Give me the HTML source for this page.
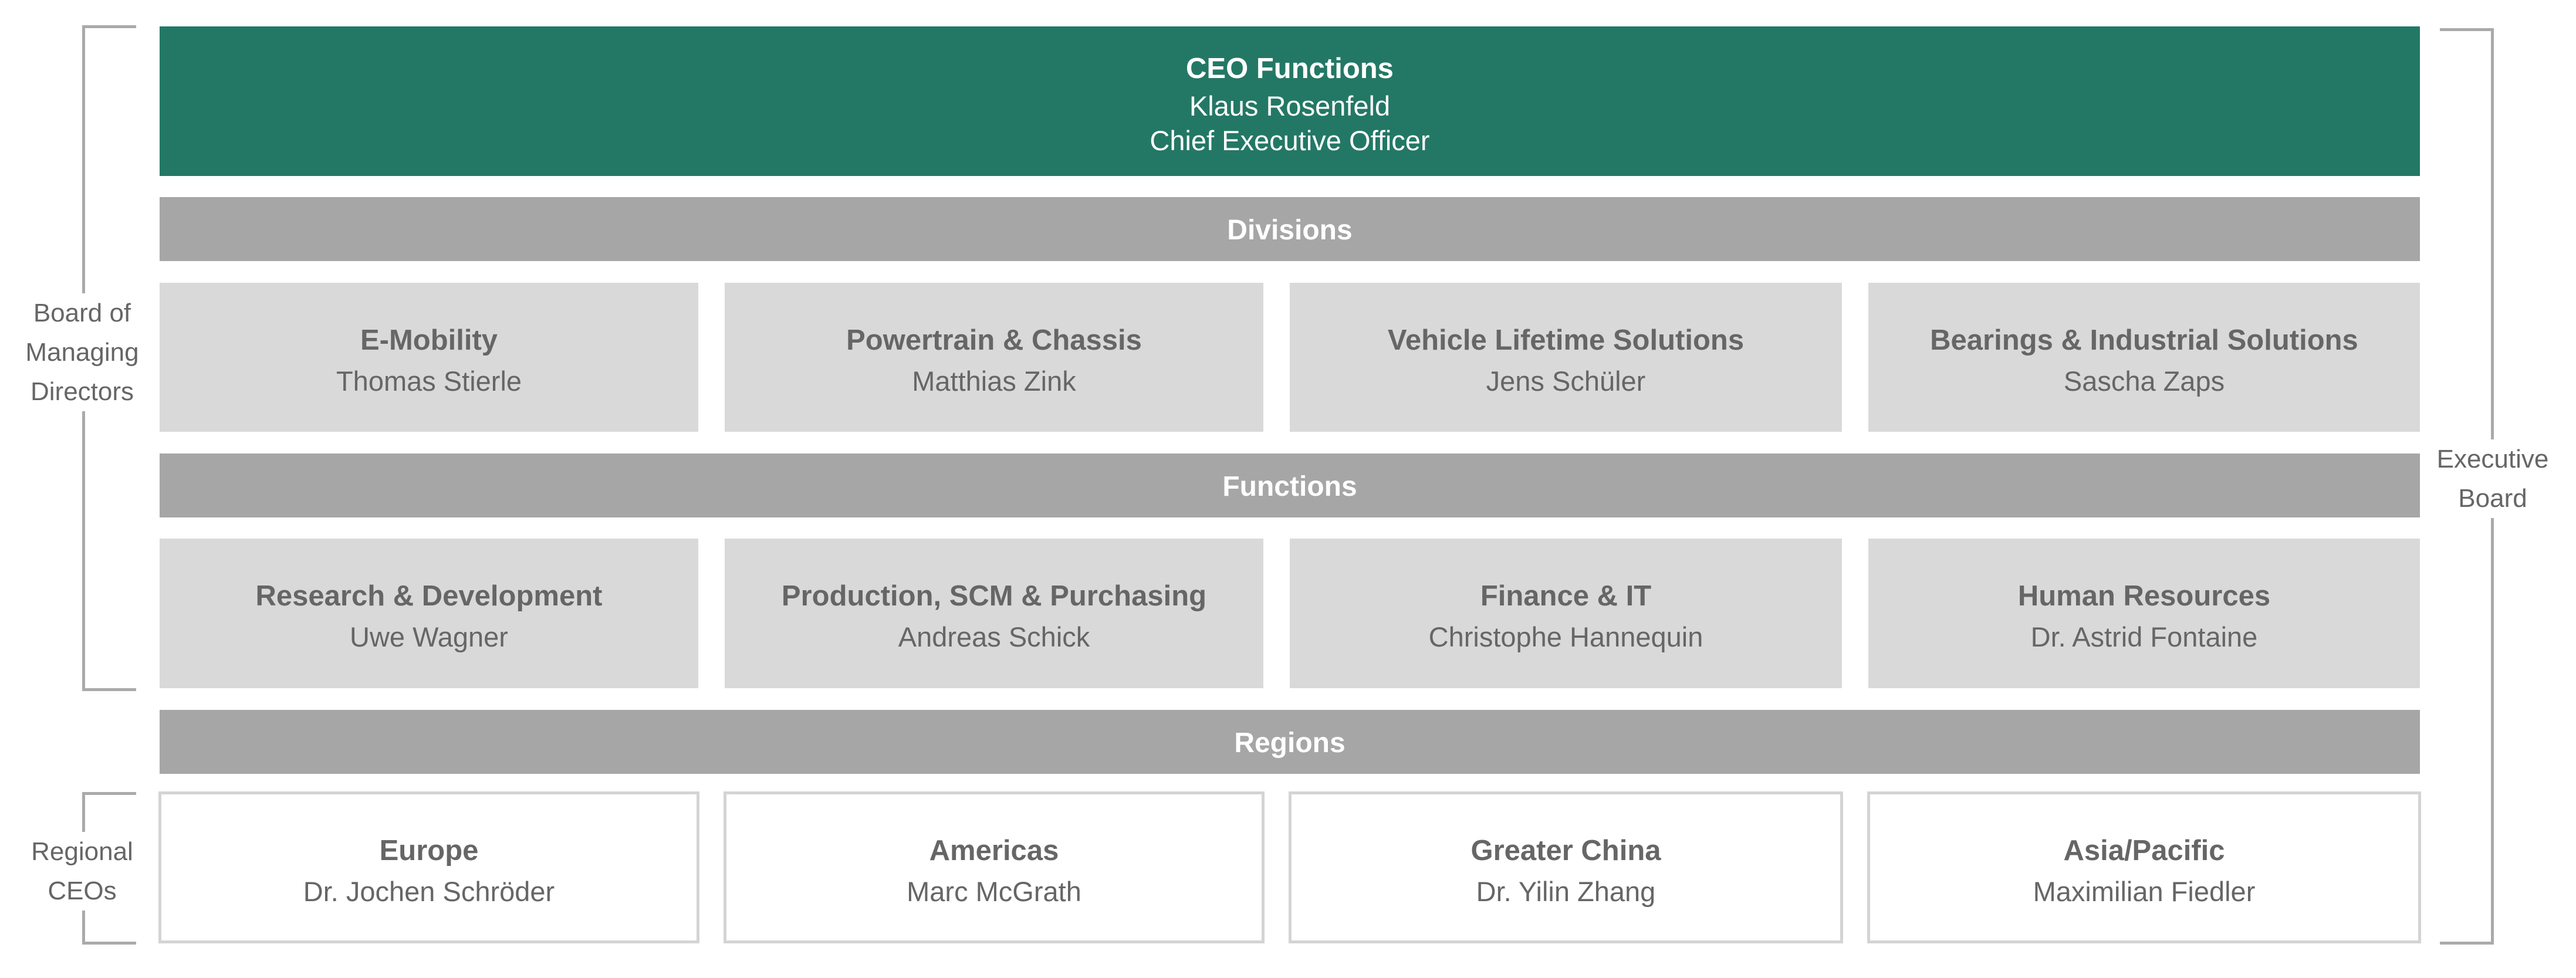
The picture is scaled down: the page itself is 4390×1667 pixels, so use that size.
<!DOCTYPE html>
<html><head><meta charset="utf-8"><style>
body{margin:0;width:4390px;height:1667px;background:#fff;position:relative;overflow:hidden;font-family:"Liberation Sans",sans-serif;}
.a{position:absolute;box-sizing:border-box;}
.t{position:absolute;left:0;right:0;text-align:center;white-space:nowrap;}
.bar{background:#a6a6a6;color:#fff;font-weight:bold;font-size:48px;display:flex;align-items:center;justify-content:center;padding-top:4px;}
.box{background:#d9d9d9;color:#666;}
.reg{background:#fff;border:5px solid #d4d4d4;color:#666;}
.h{font-weight:bold;font-size:49px;}
.n{font-size:47px;}
.ln{position:absolute;background:#aaa;}
.lab{position:absolute;color:#666;font-size:44px;text-align:center;line-height:67px;background:#fff;}
</style></head><body>
<div class="a" style="left:272px;top:45px;width:3852px;height:255px;background:#237865;color:#fff;">
<div class="t" style="top:44px;font-weight:bold;font-size:49px;">CEO Functions</div>
<div class="t" style="top:108px;font-size:47px;">Klaus Rosenfeld</div>
<div class="t" style="top:167px;font-size:47px;">Chief Executive Officer</div>
</div>
<div class="a bar" style="left:272px;top:336px;width:3852px;height:109px;">Divisions</div>
<div class="a bar" style="left:272px;top:773px;width:3852px;height:109px;">Functions</div>
<div class="a bar" style="left:272px;top:1210px;width:3852px;height:109px;">Regions</div>

<div class="a box" style="left:272px;top:482px;width:918px;height:254px;"><div class="t h" style="top:70px">E-Mobility</div><div class="t n" style="top:140px">Thomas Stierle</div></div>
<div class="a box" style="left:1235px;top:482px;width:918px;height:254px;"><div class="t h" style="top:70px">Powertrain &amp; Chassis</div><div class="t n" style="top:140px">Matthias Zink</div></div>
<div class="a box" style="left:2198px;top:482px;width:941px;height:254px;"><div class="t h" style="top:70px">Vehicle Lifetime Solutions</div><div class="t n" style="top:140px">Jens Schüler</div></div>
<div class="a box" style="left:3184px;top:482px;width:940px;height:254px;"><div class="t h" style="top:70px">Bearings &amp; Industrial Solutions</div><div class="t n" style="top:140px">Sascha Zaps</div></div>

<div class="a box" style="left:272px;top:918px;width:918px;height:255px;"><div class="t h" style="top:70px">Research &amp; Development</div><div class="t n" style="top:140px">Uwe Wagner</div></div>
<div class="a box" style="left:1235px;top:918px;width:918px;height:255px;"><div class="t h" style="top:70px">Production, SCM &amp; Purchasing</div><div class="t n" style="top:140px">Andreas Schick</div></div>
<div class="a box" style="left:2198px;top:918px;width:941px;height:255px;"><div class="t h" style="top:70px">Finance &amp; IT</div><div class="t n" style="top:140px">Christophe Hannequin</div></div>
<div class="a box" style="left:3184px;top:918px;width:940px;height:255px;"><div class="t h" style="top:70px">Human Resources</div><div class="t n" style="top:140px">Dr. Astrid Fontaine</div></div>

<div class="a reg" style="left:270px;top:1349px;width:922px;height:259px;"><div class="t h" style="top:68px">Europe</div><div class="t n" style="top:138px">Dr. Jochen Schröder</div></div>
<div class="a reg" style="left:1233px;top:1349px;width:922px;height:259px;"><div class="t h" style="top:68px">Americas</div><div class="t n" style="top:138px">Marc McGrath</div></div>
<div class="a reg" style="left:2196px;top:1349px;width:945px;height:259px;"><div class="t h" style="top:68px">Greater China</div><div class="t n" style="top:138px">Dr. Yilin Zhang</div></div>
<div class="a reg" style="left:3182px;top:1349px;width:944px;height:259px;"><div class="t h" style="top:68px">Asia/Pacific</div><div class="t n" style="top:138px">Maximilian Fiedler</div></div>

<div class="ln" style="left:140px;top:43px;width:5px;height:1135px;"></div>
<div class="ln" style="left:140px;top:43px;width:92px;height:5px;"></div>
<div class="ln" style="left:140px;top:1173px;width:92px;height:5px;"></div>
<div class="lab" style="left:20px;top:500px;width:240px;">Board of<br>Managing<br>Directors</div>
<div class="ln" style="left:140px;top:1350px;width:5px;height:260px;"></div>
<div class="ln" style="left:140px;top:1350px;width:92px;height:5px;"></div>
<div class="ln" style="left:140px;top:1605px;width:92px;height:5px;"></div>
<div class="lab" style="left:20px;top:1418px;width:240px;">Regional<br>CEOs</div>
<div class="ln" style="left:4245px;top:48px;width:5px;height:1562px;"></div>
<div class="ln" style="left:4158px;top:48px;width:92px;height:5px;"></div>
<div class="ln" style="left:4158px;top:1605px;width:92px;height:5px;"></div>
<div class="lab" style="left:4137px;top:749px;width:222px;">Executive<br>Board</div>
</body></html>
